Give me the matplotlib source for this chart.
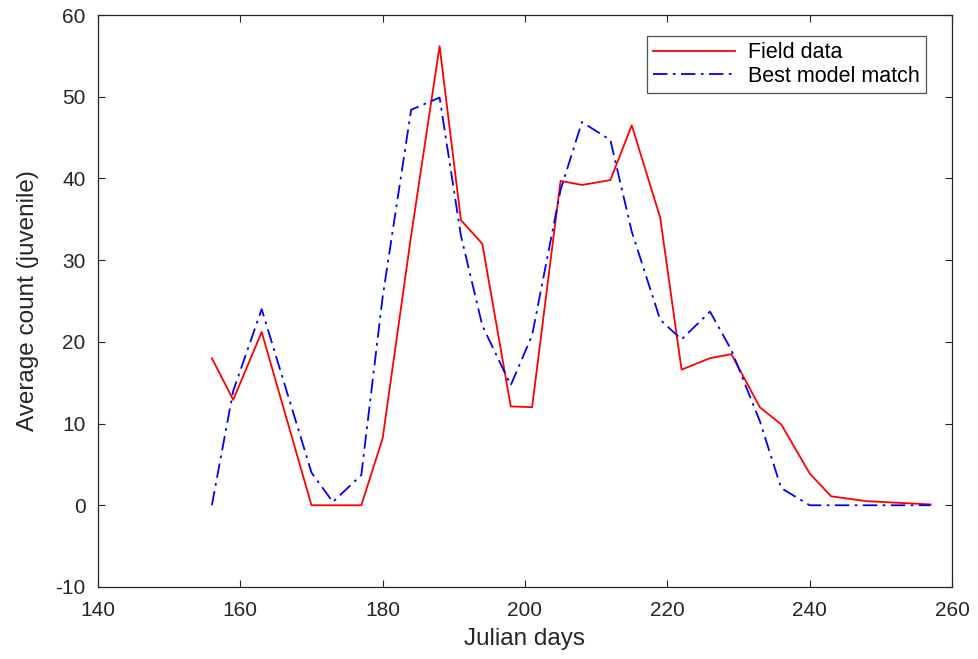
import matplotlib
matplotlib.use("Agg")
import matplotlib.pyplot as plt

field_days = [156, 159, 163, 170, 177, 180, 184, 188, 191, 194, 198, 201, 205, 208,
              212, 215, 219, 222, 226, 229, 233, 236, 240, 243, 248, 257]
field_vals = [18.0, 12.9, 21.2, 0.0, 0.0, 8.2, 33.0, 56.2, 34.9, 32.0, 12.1, 12.0, 39.7, 39.2,
              39.8, 46.5, 35.2, 16.6, 18.0, 18.5, 12.0, 9.9, 3.9, 1.1, 0.5, 0.1]

model_days = [156, 159, 163, 170, 173, 177, 180, 184, 188, 191, 194, 198, 201, 205, 208,
              212, 215, 219, 222, 226, 229, 233, 236, 240, 243, 248, 257]
model_vals = [0.0, 14.0, 24.0, 4.0, 0.4, 3.7, 25.5, 48.4, 49.9, 33.0, 22.0, 14.7, 20.8, 38.6, 46.9,
              44.7, 33.5, 22.7, 20.3, 23.7, 19.0, 10.3, 2.1, 0.0, 0.0, 0.0, 0.0]

plt.rcParams['font.family'] = ['Liberation Sans', 'DejaVu Sans']
plt.rcParams['axes.unicode_minus'] = False

fig = plt.figure(figsize=(9.79, 6.59), dpi=100)
ax = fig.add_axes([0.1001, 0.1093, 0.8723, 0.8679])

ax.plot(field_days, field_vals, color='#ff0000', lw=1.3, label='Field data')
ax.plot(model_days, model_vals, color='#0000ff', lw=1.3, linestyle=(0, (8, 3, 1.5, 3)),
        label='Best model match')

ax.set_xlim(140, 260)
ax.set_ylim(-10, 60)
ax.set_xticks(range(140, 261, 20))
ax.set_yticks(range(-10, 61, 10))
ax.tick_params(direction='in', top=True, right=True, labelsize=15, colors='#262626',
               length=5, width=0.8)
ax.tick_params(axis='x', pad=10)
ax.tick_params(axis='y', pad=9)
for s in ax.spines.values():
    s.set_color('#262626')
    s.set_linewidth(0.9)
ax.set_xlabel('Julian days', fontsize=17.5, color='#262626', labelpad=6)
ax.set_ylabel('Average count (juvenile)', fontsize=17.5, color='#262626', labelpad=12)

leg = ax.legend(loc='upper right', bbox_to_anchor=(0.9696, 0.9633), borderaxespad=0,
                fontsize=15.5, frameon=True, fancybox=False, edgecolor='#262626',
                handlelength=3.8, borderpad=0.3, labelspacing=0.1, handletextpad=0.6)
leg.get_frame().set_linewidth(0.9)

fig.savefig('out.png', dpi=100)
